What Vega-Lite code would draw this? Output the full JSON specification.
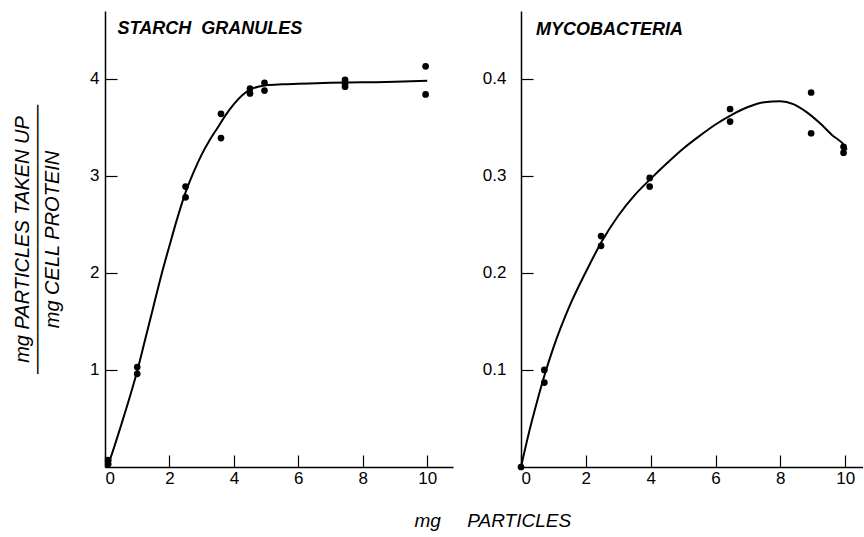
{
  "$schema": "https://vega.github.io/schema/vega-lite/v6.json",
  "background": "white",
  "padding": {"left": 12, "top": 11, "right": 0, "bottom": 0},
  "datasets": {
    "starch_pts": [
      {"x": 0.1, "y": 0.07}, {"x": 0.1, "y": 0.03},
      {"x": 1.0, "y": 1.03}, {"x": 1.0, "y": 0.96},
      {"x": 2.5, "y": 2.89}, {"x": 2.5, "y": 2.78},
      {"x": 3.6, "y": 3.64}, {"x": 3.6, "y": 3.39},
      {"x": 4.5, "y": 3.90}, {"x": 4.5, "y": 3.85},
      {"x": 4.95, "y": 3.96}, {"x": 4.95, "y": 3.88},
      {"x": 7.45, "y": 3.99}, {"x": 7.45, "y": 3.95}, {"x": 7.45, "y": 3.92},
      {"x": 9.95, "y": 4.13}, {"x": 9.95, "y": 3.84}
    ],
    "starch_curve": [
      {"x": 0.1, "y": 0.02}, {"x": 0.3, "y": 0.22}, {"x": 0.5, "y": 0.43},
      {"x": 0.75, "y": 0.70}, {"x": 1.0, "y": 0.99}, {"x": 1.25, "y": 1.32},
      {"x": 1.5, "y": 1.65}, {"x": 1.75, "y": 1.98}, {"x": 2.0, "y": 2.28},
      {"x": 2.25, "y": 2.57}, {"x": 2.5, "y": 2.83}, {"x": 2.75, "y": 3.04},
      {"x": 3.0, "y": 3.22}, {"x": 3.25, "y": 3.37}, {"x": 3.5, "y": 3.50},
      {"x": 3.75, "y": 3.63}, {"x": 4.0, "y": 3.74}, {"x": 4.25, "y": 3.83},
      {"x": 4.5, "y": 3.89}, {"x": 4.75, "y": 3.92}, {"x": 5.0, "y": 3.935},
      {"x": 5.5, "y": 3.945}, {"x": 6.0, "y": 3.95}, {"x": 7.0, "y": 3.96},
      {"x": 8.0, "y": 3.965}, {"x": 9.0, "y": 3.97}, {"x": 10.0, "y": 3.98}
    ],
    "myco_pts": [
      {"x": 0.0, "y": 0.0},
      {"x": 0.72, "y": 0.100}, {"x": 0.72, "y": 0.087},
      {"x": 2.47, "y": 0.238}, {"x": 2.47, "y": 0.228},
      {"x": 3.97, "y": 0.298}, {"x": 3.97, "y": 0.289},
      {"x": 6.45, "y": 0.369}, {"x": 6.45, "y": 0.356},
      {"x": 8.95, "y": 0.386}, {"x": 8.95, "y": 0.344},
      {"x": 9.95, "y": 0.330}, {"x": 9.95, "y": 0.324}
    ],
    "myco_curve": [
      {"x": 0.0, "y": 0.0}, {"x": 0.25, "y": 0.036}, {"x": 0.5, "y": 0.068},
      {"x": 0.72, "y": 0.094}, {"x": 1.0, "y": 0.123}, {"x": 1.5, "y": 0.166},
      {"x": 2.0, "y": 0.201}, {"x": 2.5, "y": 0.233}, {"x": 3.0, "y": 0.259},
      {"x": 3.5, "y": 0.280}, {"x": 4.0, "y": 0.297}, {"x": 4.5, "y": 0.313},
      {"x": 5.0, "y": 0.328}, {"x": 5.5, "y": 0.341}, {"x": 6.0, "y": 0.353},
      {"x": 6.5, "y": 0.363}, {"x": 7.0, "y": 0.371}, {"x": 7.5, "y": 0.376},
      {"x": 8.0, "y": 0.377}, {"x": 8.4, "y": 0.374}, {"x": 8.8, "y": 0.366},
      {"x": 9.2, "y": 0.355}, {"x": 9.6, "y": 0.342}, {"x": 10.0, "y": 0.330},
      {"x": 10.05, "y": 0.327}
    ]
  },
  "config": {
    "view": {"stroke": null},
    "font": "Liberation Sans",
    "concat": {"spacing": 29},
    "axis": {
      "grid": false,
      "domainColor": "black",
      "domainWidth": 1.5,
      "tickColor": "black",
      "tickWidth": 1.2,
      "tickSize": -12,
      "labelFont": "Liberation Sans",
      "labelFontSize": 17,
      "labelColor": "black",
      "titleColor": "black"
    },
    "text": {"font": "Liberation Sans", "fontSize": 18, "fontStyle": "italic", "fontWeight": "bold", "color": "black", "align": "left", "baseline": "alphabetic"}
  },
  "title": {
    "text": "mg\u00a0\u00a0\u00a0\u00a0 PARTICLES",
    "orient": "bottom",
    "anchor": "middle",
    "font": "Liberation Sans",
    "fontSize": 19,
    "fontStyle": "italic",
    "fontWeight": "normal",
    "color": "black",
    "offset": 26,
    "dx": 55
  },
  "hconcat": [
    {
      "width": 348,
      "height": 456,
      "layer": [
        {
          "data": {"name": "starch_curve"},
          "mark": {"type": "line", "interpolate": "monotone", "color": "black", "strokeWidth": 2},
          "encoding": {
            "x": {"field": "x", "type": "quantitative", "scale": {"domain": [0, 10.8], "nice": false},
              "axis": {"values": [0, 2, 4, 6, 8, 10], "title": null, "labelPadding": 15}},
            "y": {"field": "y", "type": "quantitative", "scale": {"domain": [0, 4.7], "nice": false},
              "axis": {
                "values": [1, 2, 3, 4],
                "format": "d",
                "labelPadding": 18,
                "title": ["mg PARTICLES TAKEN UP", "───────────────────", "mg CELL PROTEIN"],
                "titleFont": "Liberation Sans, DejaVu Sans",
                "titleFontSize": 20,
                "titleFontStyle": "italic",
                "titleFontWeight": "normal",
                "titleLineHeight": 15,
                "titlePadding": 27
              }}
          }
        },
        {
          "data": {"name": "starch_pts"},
          "mark": {"type": "point", "shape": "circle", "filled": true, "color": "black", "opacity": 1, "size": 45},
          "encoding": {
            "x": {"field": "x", "type": "quantitative"},
            "y": {"field": "y", "type": "quantitative"}
          }
        },
        {
          "data": {"values": [{"label": "STARCH\u00a0 GRANULES"}]},
          "mark": {"type": "text", "fontSize": 18},
          "encoding": {
            "x": {"datum": 0.39},
            "y": {"datum": 4.46},
            "text": {"field": "label"}
          }
        }
      ]
    },
    {
      "width": 342,
      "height": 456,
      "layer": [
        {
          "data": {"name": "myco_curve"},
          "mark": {"type": "line", "interpolate": "monotone", "color": "black", "strokeWidth": 2},
          "encoding": {
            "x": {"field": "x", "type": "quantitative", "scale": {"domain": [0, 10.55], "nice": false},
              "axis": {"values": [0, 2, 4, 6, 8, 10], "title": null, "labelPadding": 15}},
            "y": {"field": "y", "type": "quantitative", "scale": {"domain": [0, 0.47], "nice": false},
              "axis": {"values": [0.1, 0.2, 0.3, 0.4], "format": ".1f", "title": null, "labelPadding": 27}}
          }
        },
        {
          "data": {"name": "myco_pts"},
          "mark": {"type": "point", "shape": "circle", "filled": true, "color": "black", "opacity": 1, "size": 45},
          "encoding": {
            "x": {"field": "x", "type": "quantitative"},
            "y": {"field": "y", "type": "quantitative"}
          }
        },
        {
          "data": {"values": [{"label": "MYCOBACTERIA"}]},
          "mark": {"type": "text"},
          "encoding": {
            "x": {"datum": 0.46},
            "y": {"datum": 0.445},
            "text": {"field": "label"}
          }
        }
      ]
    }
  ]
}
